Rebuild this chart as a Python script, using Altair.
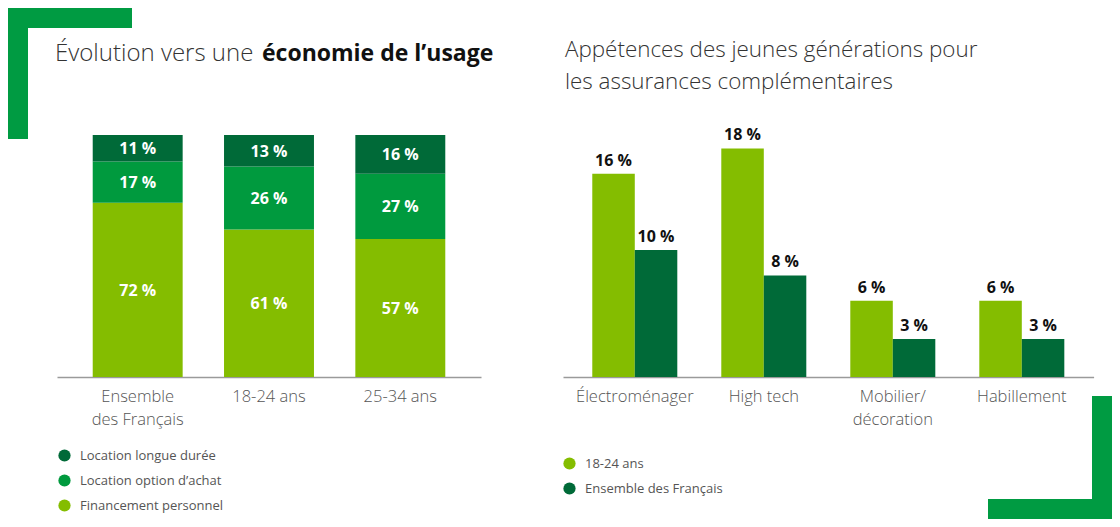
import altair as alt
import pandas as pd

# ---------------- data ----------------
left_groups = ["Ensemble des Français", "18-24 ans", "25-34 ans"]
left_series = ["Location longue durée", "Location option d’achat", "Financement personnel"]
location_longue = [11, 13, 16]
location_option = [17, 26, 27]
financement = [72, 61, 57]

right_cats = ["Électroménager", "High tech", "Mobilier/décoration", "Habillement"]
right_series = ["18-24 ans", "Ensemble des Français"]
jeunes_18_24 = [16, 18, 6, 6]
ensemble_fr = [10, 8, 3, 3]

DARK = "#006A38"
MID = "#009A3E"
LIGHT = "#84BD00"
CORNER = "#009B42"
FONT = "Open Sans"

rows = []
for i, g in enumerate(left_groups):
    for rank, (s, vals) in enumerate(zip(
            ["Financement personnel", "Location option d’achat", "Location longue durée"],
            [financement, location_option, location_longue])):
        rows.append({"group": g, "series": s, "value": vals[i], "rank": rank})
df_left = pd.DataFrame(rows)

rows = []
for i, c in enumerate(right_cats):
    rows.append({"cat": c, "series": right_series[0], "value": jeunes_18_24[i]})
    rows.append({"cat": c, "series": right_series[1], "value": ensemble_fr[i]})
df_right = pd.DataFrame(rows)

W, H = 1104, 369

axis_common = dict(orient="bottom", title=None, domainColor="#9a9a9a", domainWidth=1.5,
                   ticks=False, grid=False, labelAngle=0, labelFont=FONT, labelFontSize=16.5,
                   labelColor="#555555", labelPadding=11, labelLineHeight=23,
                   labelOverlap=False, labelFontWeight=300)

# ---------------- left: stacked bars ----------------
lx = alt.X("group:N", sort=left_groups,
           scale=alt.Scale(domain=left_groups, range=[49, 473], paddingInner=0.315, paddingOuter=0.272),
           axis=alt.Axis(**axis_common,
                         labelExpr="datum.label == 'Ensemble des Français' ? ['Ensemble', 'des Français'] : datum.label"))
ly = alt.Y("y0:Q", scale=alt.Scale(domain=[0, 100], range=[H, 127], nice=False, zero=True), axis=None)

left_base = alt.Chart(df_left).transform_stack(
    stack="value", groupby=["group"], as_=["y0", "y1"],
    sort=[alt.SortField("rank", order="ascending")]
).transform_calculate(mid="(datum.y0 + datum.y1) / 2", label="datum.value + ' %'")

left_bars = left_base.mark_bar().encode(
    x=lx, y=ly, y2="y1:Q",
    color=alt.Color("series:N",
                    scale=alt.Scale(domain=left_series, range=[DARK, MID, LIGHT]),
                    legend=alt.Legend(orient="none", legendX=50, legendY=441, title=None,
                                      symbolType="circle", symbolSize=150, symbolStrokeWidth=0,
                                      labelFont=FONT, labelFontSize=13, labelColor="#555555",
                                      rowPadding=11, labelOffset=9, direction="vertical"))
)
left_text = left_base.mark_text(font=FONT, fontSize=16, fontWeight="bold", color="white",
                                baseline="middle", dy=1).encode(
    x=lx,
    y=alt.Y("mid:Q", scale=alt.Scale(domain=[0, 100], range=[H, 127], nice=False, zero=True), axis=None),
    text="label:N"
)
left_layer = alt.layer(left_bars, left_text)

# ---------------- right: grouped bars ----------------
rx = alt.X("cat:N", sort=right_cats,
           scale=alt.Scale(domain=right_cats, range=[555, 1085.6], paddingInner=0.341, paddingOuter=0.227),
           axis=alt.Axis(**axis_common,
                         labelExpr="datum.label == 'Mobilier/décoration' ? ['Mobilier/', 'décoration'] : datum.label"))
rxo = alt.XOffset("series:N", sort=right_series,
                  scale=alt.Scale(domain=right_series, paddingInner=0, paddingOuter=0))
ry = alt.Y("value:Q", scale=alt.Scale(domain=[0, 18], range=[H, 140.4], nice=False, zero=True), axis=None)

right_base = alt.Chart(df_right).transform_calculate(label="datum.value + ' %'")
right_bars = right_base.mark_bar().encode(
    x=rx, xOffset=rxo, y=ry,
    color=alt.Color("series:N",
                    scale=alt.Scale(domain=right_series, range=[LIGHT, DARK]),
                    legend=alt.Legend(orient="none", legendX=555, legendY=449, title=None,
                                      symbolType="circle", symbolSize=150, symbolStrokeWidth=0,
                                      labelFont=FONT, labelFontSize=13, labelColor="#555555",
                                      rowPadding=11, labelOffset=9, direction="vertical"))
)
right_text = right_base.mark_text(font=FONT, fontSize=16, fontWeight="bold", color="#111111",
                                  baseline="middle", dy=-13).encode(
    x=rx, xOffset=rxo, y=ry, text="label:N"
)
right_layer = alt.layer(right_bars, right_text)

# ---------------- titles ----------------
one = pd.DataFrame({"a": [0]})
title_l1 = alt.Chart(one).mark_text(font=FONT, fontSize=24, fontWeight=300, color="#333333",
                                    align="left", baseline="alphabetic").encode(
    x=alt.value(47), y=alt.value(53), text=alt.value("Évolution vers une"))
title_l2 = alt.Chart(one).mark_text(font=FONT, fontSize=23, fontWeight="bold", color="#111111",
                                    align="left", baseline="alphabetic").encode(
    x=alt.value(254), y=alt.value(53), text=alt.value("économie de l’usage"))
title_r = alt.Chart(one).mark_text(font=FONT, fontSize=22.4, fontWeight=300, color="#333333",
                                   align="left", baseline="alphabetic", lineHeight=32).encode(
    x=alt.value(557), y=alt.value(49),
    text=alt.value(["Appétences des jeunes générations pour", "les assurances complémentaires"]))

# ---------------- decorative corners ----------------
def rect(x1, x2, y1, y2):
    return alt.Chart(one).mark_rect(color=CORNER).encode(
        x=alt.value(x1), x2=alt.value(x2), y=alt.value(y1), y2=alt.value(y2))

corners = [rect(0, 124, 0, 20), rect(0, 20, 0, 131),
           rect(1084, 1104, 388, 511), rect(980, 1104, 491, 511)]

chart = alt.layer(
    left_layer, right_layer, title_l1, title_l2, title_r, *corners
).resolve_scale(
    x="independent", y="independent", color="independent", xOffset="independent"
).resolve_axis(x="independent").resolve_legend(color="independent").properties(
    width=W, height=H,
    padding={"left": 0, "top": 0, "right": 0, "bottom": 142},
    autosize=alt.AutoSizeParams(type="none"),
    background="white"
).configure_view(stroke=None)

chart.save("out.html", embed_options={"renderer": "svg", "actions": False})
